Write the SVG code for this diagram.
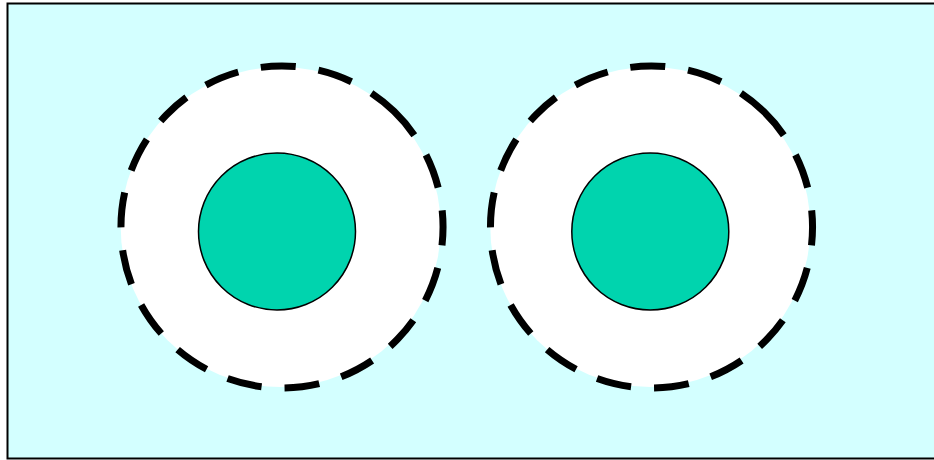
<svg xmlns="http://www.w3.org/2000/svg" width="934" height="460" viewBox="0 0 934 460">
<style>
.bg{fill:#d3ffff;stroke:#000;stroke-width:2}
.halo{fill:#fff;stroke:none}
.ring{fill:none;stroke:#000;stroke-width:7;stroke-dasharray:35 23;stroke-dashoffset:4}
.core{fill:#00d4ae;stroke:#000;stroke-width:1.5}
</style>
<rect class="bg" x="7.5" y="3.5" width="940" height="455"/>
<g id="node-left">
<circle class="halo" cx="280.7" cy="227" r="160"/>
<path class="ring" d="M394.25 111.58 A161 161 0 1 1 169.75 342.42 A161 161 0 1 1 394.25 111.58 Z"/>
<circle class="core" cx="277" cy="231.5" r="78.5"/>
</g>
<g id="node-right">
<circle class="halo" cx="650.3" cy="227" r="160"/>
<path class="ring" d="M763.75 111.58 A161 161 0 1 1 539.25 342.42 A161 161 0 1 1 763.75 111.58 Z"/>
<circle class="core" cx="650.3" cy="231.5" r="78.5"/>
</g>
<g id="connectors"></g>
</svg>
